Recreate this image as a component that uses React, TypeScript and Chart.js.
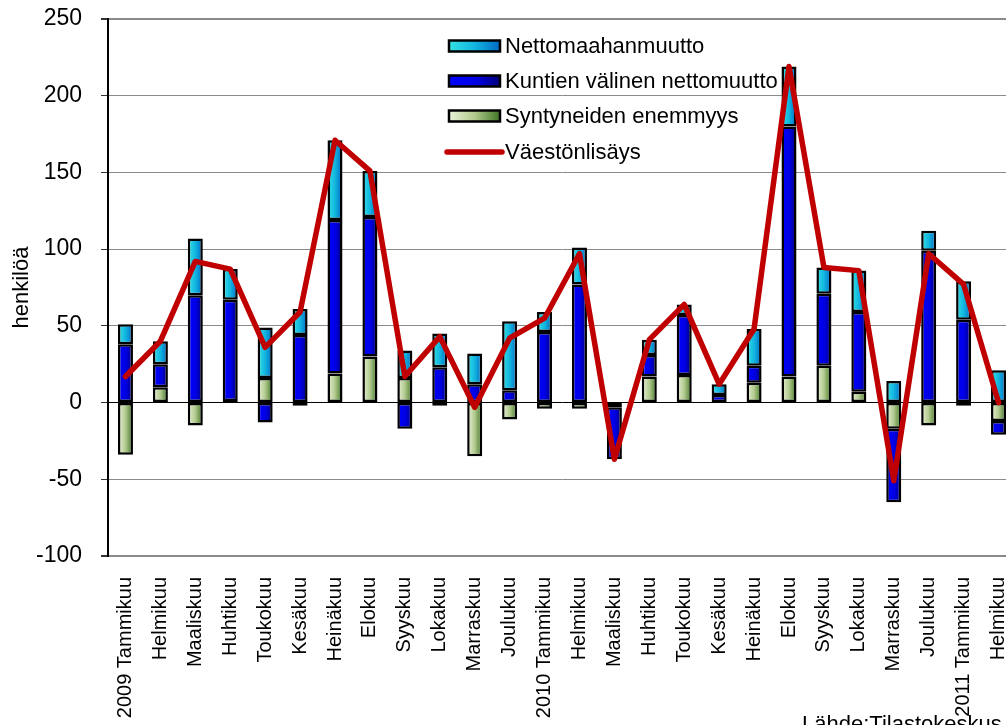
import React, { useEffect, useRef } from 'react';
import { Chart, registerables } from 'chart.js';

Chart.register(...registerables);

const categories = [
  '2009 Tammikuu', 'Helmikuu', 'Maaliskuu', 'Huhtikuu', 'Toukokuu', 'Kesäkuu', 'Heinäkuu', 'Elokuu',
  'Syyskuu', 'Lokakuu', 'Marraskuu', 'Joulukuu',
  '2010 Tammikuu', 'Helmikuu', 'Maaliskuu', 'Huhtikuu', 'Toukokuu', 'Kesäkuu', 'Heinäkuu', 'Elokuu',
  'Syyskuu', 'Lokakuu', 'Marraskuu', 'Joulukuu',
  '2011 Tammikuu', 'Helmikuu',
];

const syntyneidenEnemmyys = [-34, 10, -15, 1, 16, -2, 19, 30, 16, -2, -35, -11, -4, -4, -3, 17, 18, 0, 13, 17, 24, 7, -17, -15, -2, -12];
const kuntienValinenNettomuutto = [38, 15, 70, 66, -13, 44, 100, 91, -17, 23, 12, 8, 46, 77, -34, 14, 39, 5, 11, 163, 47, 52, -48, 99, 54, -9];
const nettomaahanmuutto = [13, 15, 37, 20, 33, 17, 52, 30, 18, 22, 20, 45, 13, 24, 0, 10, 7, 7, 24, 39, 17, 27, 14, 13, 25, 21];
const vaestonlisays = [17, 40, 92, 87, 36, 59, 171, 151, 17, 43, -3, 42, 55, 97, -37, 41, 64, 12, 48, 219, 88, 86, -51, 97, 77, 0];

const yMin = -100;
const yMax = 250;
const yStep = 50;

const legendLabels = ['Nettomaahanmuutto', 'Kuntien välinen nettomuutto', 'Syntyneiden enemmyys', 'Väestönlisäys'];
const yTitle = 'henkilöä';
const sourceText = 'Lähde:Tilastokeskus';

const FONT = 'Arial, "Liberation Sans", sans-serif';
const CANVAS_W = 1016;
const CANVAS_H = 740;
const AREA_LEFT = 108;
const AREA_TOP = 19;
const AREA_BOTTOM = 556;
const BAR_FRAC = 0.43;

type Stop = [number, string];
const cyanStops: Stop[] = [[0, '#34e2e2'], [0.5, '#12b6e0'], [1, '#0068c4']];
const blueStops: Stop[] = [[0, '#0000ff'], [0.55, '#0000e2'], [1, '#000078']];
const greenStops: Stop[] = [[0, '#eaf2da'], [0.5, '#b2ca8e'], [1, '#3f7424']];

function barGradient(stops: Stop[]) {
  return (ctx: any) => {
    const chart = ctx.chart;
    const xs = chart.scales && chart.scales.x;
    if (!xs || ctx.type !== 'data' || !chart.chartArea) return stops[1][1];
    const cx = xs.getPixelForValue(ctx.dataIndex);
    const w = (xs.width / categories.length) * BAR_FRAC;
    const g = chart.ctx.createLinearGradient(cx - w / 2, 0, cx + w / 2, 0);
    stops.forEach(([o, c]) => g.addColorStop(o, c));
    return g;
  };
}

const customLegend = {
  id: 'customLegend',
  afterDraw(chart: any) {
    const c = chart.ctx as CanvasRenderingContext2D;
    const rows = [46, 81, 116, 152];
    const boxL = 449;
    const boxR = 500;
    const stopsList = [cyanStops, blueStops, greenStops];
    c.save();
    c.font = `22px ${FONT}`;
    c.textBaseline = 'middle';
    c.textAlign = 'left';
    for (let i = 0; i < 3; i++) {
      const y = rows[i];
      const g = c.createLinearGradient(boxL, 0, boxR, 0);
      stopsList[i].forEach(([o, col]) => g.addColorStop(o, col));
      c.fillStyle = g;
      c.fillRect(boxL, y - 5.5, boxR - boxL, 11);
      c.lineWidth = 2.5;
      c.strokeStyle = '#000';
      c.strokeRect(boxL, y - 5.5, boxR - boxL, 11);
      c.fillStyle = '#000';
      c.fillText(legendLabels[i], 505, y + 1);
    }
    const ly = rows[3];
    c.strokeStyle = '#c00000';
    c.lineWidth = 5.5;
    c.lineCap = 'round';
    c.beginPath();
    c.moveTo(447, ly);
    c.lineTo(502, ly);
    c.stroke();
    c.fillStyle = '#000';
    c.fillText(legendLabels[3], 505, ly + 1);

    c.textBaseline = 'alphabetic';
    c.fillText(sourceText, 802, 731);
    c.restore();
  },
};

export default function App() {
  const ref = useRef<HTMLCanvasElement | null>(null);

  useEffect(() => {
    if (!ref.current) return;
    const chart = new Chart(ref.current, {
      type: 'bar',
      data: {
        labels: categories,
        datasets: [
          {
            type: 'line',
            label: legendLabels[3],
            data: vaestonlisays,
            borderColor: '#c00000',
            backgroundColor: '#c00000',
            borderWidth: 5.5,
            pointRadius: 0,
            tension: 0,
            borderJoinStyle: 'round',
            borderCapStyle: 'round',
            order: 0,
            stack: 'line',
          } as any,
          {
            label: legendLabels[2],
            data: syntyneidenEnemmyys,
            backgroundColor: barGradient(greenStops),
            borderColor: '#000',
            borderWidth: 2.5,
            borderSkipped: false,
            order: 1,
          },
          {
            label: legendLabels[1],
            data: kuntienValinenNettomuutto,
            backgroundColor: barGradient(blueStops),
            borderColor: '#000',
            borderWidth: 2.5,
            borderSkipped: false,
            order: 1,
          },
          {
            label: legendLabels[0],
            data: nettomaahanmuutto,
            backgroundColor: barGradient(cyanStops),
            borderColor: '#000',
            borderWidth: 2.5,
            borderSkipped: false,
            order: 1,
          },
        ],
      },
      options: {
        responsive: false,
        animation: false,
        events: [],
        layout: { padding: { top: AREA_TOP, left: 0, right: 0, bottom: 0 } },
        datasets: {
          bar: { categoryPercentage: 1, barPercentage: BAR_FRAC },
        },
        plugins: {
          legend: { display: false },
          tooltip: { enabled: false },
        },
        scales: {
          x: {
            stacked: true,
            offset: true,
            grid: { display: false, drawTicks: false },
            border: { display: false },
            ticks: {
              autoSkip: false,
              maxRotation: 90,
              minRotation: 90,
              padding: 21,
              color: '#000',
              font: { family: FONT, size: 20 },
            },
            afterFit: (s: any) => {
              s.height = CANVAS_H - AREA_BOTTOM;
              s.paddingLeft = 0;
              s.paddingRight = 0;
            },
          },
          y: {
            stacked: true,
            min: yMin,
            max: yMax,
            ticks: {
              stepSize: yStep,
              padding: 19,
              color: '#000',
              font: { family: FONT, size: 23 },
            },
            grid: {
              color: (c: any) => (c.tick && c.tick.value === 0 ? '#000' : '#8a8a8a'),
              lineWidth: (c: any) => (c.tick && (c.tick.value === yMax || c.tick.value === yMin) ? 2 : 1),
              tickColor: '#333',
              tickLength: 7,
            },
            border: { display: true, color: '#000', width: 2 },
            title: {
              display: true,
              text: yTitle,
              color: '#000',
              font: { family: FONT, size: 22 },
              padding: { top: 9, bottom: 0 },
            },
            afterFit: (s: any) => {
              s.width = AREA_LEFT;
              s.paddingTop = 0;
              s.paddingBottom = 0;
            },
          },
        },
      },
      plugins: [customLegend],
    });
    return () => chart.destroy();
  }, []);

  return (
    <div
      style={{
        position: 'fixed',
        left: 0,
        top: 0,
        width: 1006,
        height: 725,
        overflow: 'hidden',
        background: '#fff',
      }}
    >
      <canvas ref={ref} width={CANVAS_W} height={CANVAS_H} style={{ display: 'block', width: CANVAS_W, height: CANVAS_H }} />
    </div>
  );
}
